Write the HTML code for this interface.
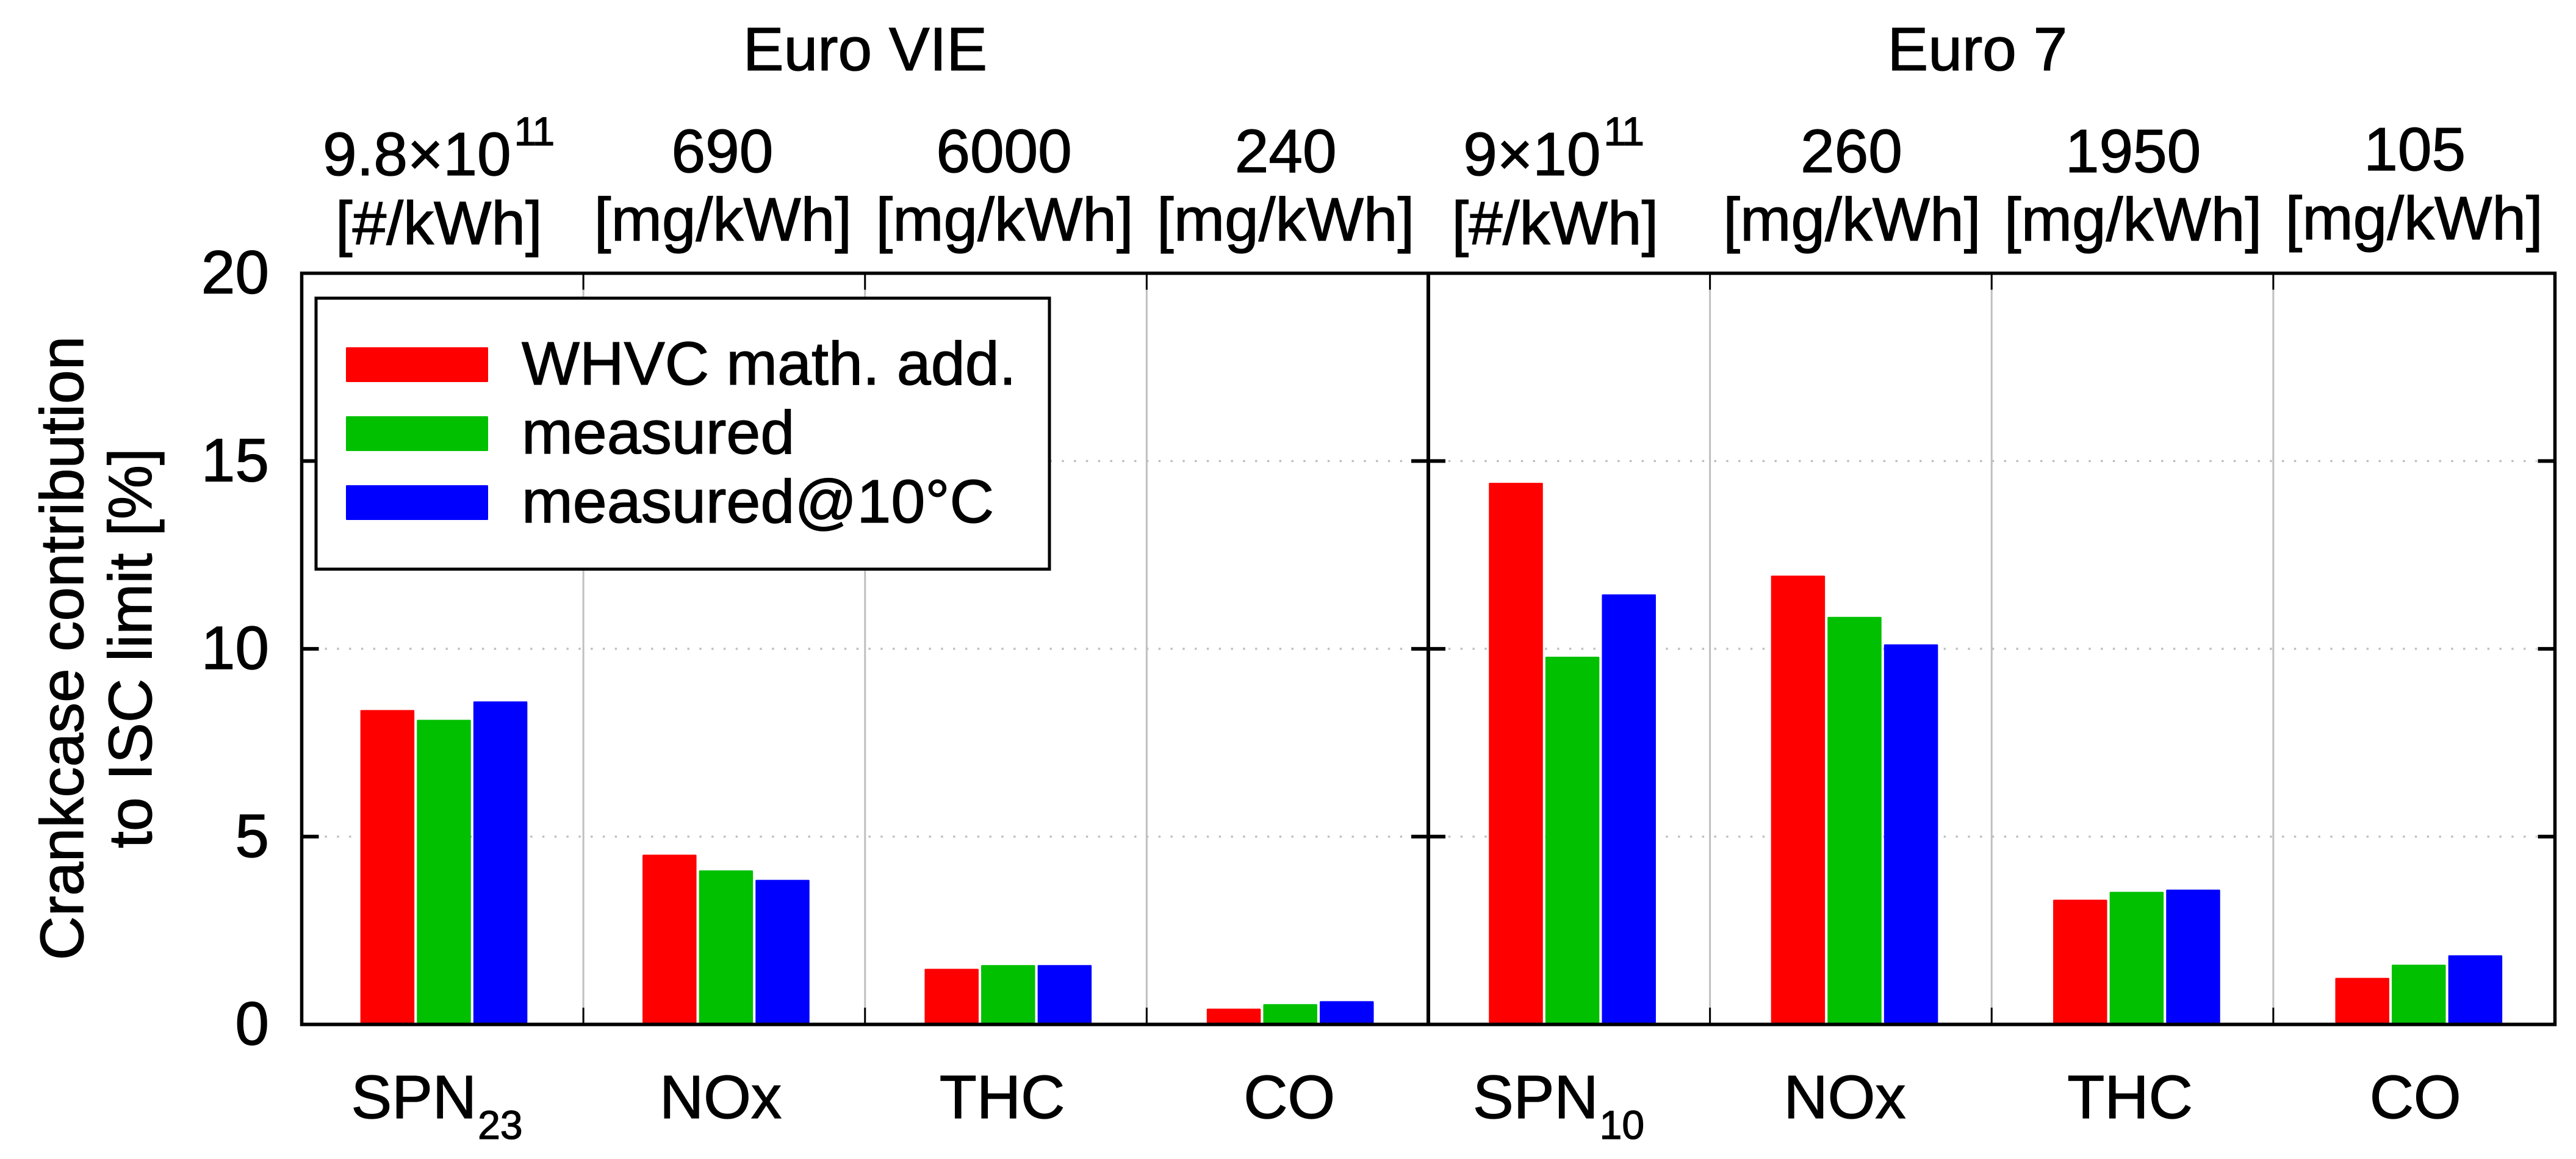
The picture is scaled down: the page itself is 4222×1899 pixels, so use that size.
<!DOCTYPE html>
<html lang="en">
<head>
<meta charset="utf-8">
<title>Crankcase contribution to ISC limit</title>
<style>
html,body{margin:0;padding:0;background:#fff;}
svg{display:block;}
text{font-family:"Liberation Sans",Arial,sans-serif;fill:#000;stroke:#000;stroke-width:1.3px;}
</style>
</head>
<body>
<svg id="chart" xmlns="http://www.w3.org/2000/svg" width="4222" height="1899" viewBox="0 0 4222 1899"></svg>
<script>
const categories = ["SPN", "NOx", "THC", "CO", "SPN", "NOx", "THC", "CO"];
const categorySubs = ["23", "", "", "", "10", "", "", ""];
const limitValues = ["9.8×10", "690", "6000", "240", "9×10", "260", "1950", "105"];
const limitExponents = ["11", "", "", "", "11", "", "", ""];
const limitUnits = ["[#/kWh]", "[mg/kWh]", "[mg/kWh]", "[mg/kWh]", "[#/kWh]", "[mg/kWh]", "[mg/kWh]", "[mg/kWh]"];
const standards = ["Euro VIE", "Euro 7"];
const seriesNames = ["WHVC math. add.", "measured", "measured@10°C"];
const whvcMathAdd = [8.37, 4.52, 1.48, 0.42, 14.42, 11.95, 3.32, 1.24];
const measured = [8.11, 4.10, 1.58, 0.54, 9.79, 10.85, 3.53, 1.59];
const measuredAt10C = [8.60, 3.85, 1.58, 0.62, 11.45, 10.12, 3.59, 1.84];
const yTicks = [0, 5, 10, 15, 20];

const NS = "http://www.w3.org/2000/svg";
const svg = document.getElementById("chart");
const seriesColors = ["#ff0000", "#00c000", "#0000ff"];
const seriesList = [whvcMathAdd, measured, measuredAt10C];
const seriesKeys = ["whvc", "measured", "measured-10c"];

/* hand-placed label nudges relative to each group's centre */
const categoryNudge = [-47, -6, -6, 3, -55, -10, -4, 2];
const limitNudge = [-42, -3, -3, -3, -61, 1, 1, 1];
const unitNudge = [-6, -2, -2, -3, -23, 2, 1, 0];

const plotLeft = 494.5, plotRight = 4187.5, plotTop = 447.7, plotBottom = 1678.5;
const groupWidth = (plotRight - plotLeft) / categories.length;
const yMax = yTicks[yTicks.length - 1];

function yScale(v) { return plotBottom - (v / yMax) * (plotBottom - plotTop); }
function groupEdge(i) { return plotLeft + i * groupWidth; }
function groupCenter(i) { return groupEdge(i) + groupWidth / 2; }
function barCenter(i, s) { return 727.5 + i * 462.4 + (s - 1) * 92.6; }

function make(tag, attrs, txt) {
  const el = document.createElementNS(NS, tag);
  for (const k in attrs) el.setAttribute(k, attrs[k]);
  if (txt !== undefined) el.textContent = txt;
  svg.appendChild(el);
  return el;
}
function lineEl(x1, y1, x2, y2, stroke, w, extra) {
  return make("line", Object.assign({ x1: x1, y1: y1, x2: x2, y2: y2, stroke: stroke, "stroke-width": w }, extra || {}));
}

/* horizontal dotted grid */
yTicks.forEach(function (t) {
  if (t === 0 || t === yMax) return;
  const g = lineEl(plotLeft + 38, yScale(t), plotRight - 30, yScale(t), "#bdbdbd", 3.4, { "stroke-dasharray": "3.4 16.4" });
  
  
});

/* vertical grid + group tick marks */
categories.forEach(function (c, i) {
  if (i === 0 || i === 4) return;
  const x = groupEdge(i);
  const g = lineEl(x, plotTop, x, plotBottom, "#c0c0c0", 3);
  
  
  const a = lineEl(x, plotTop, x, plotTop + 27, "#000", 3);
  
  
  const b = lineEl(x, plotBottom - 27.5, x, plotBottom, "#000", 3);
  
  
});

/* bars */
const barWidth = 88.5, barBase = 1676;
seriesList.forEach(function (values, s) {
  values.forEach(function (v, i) {
    const top = yScale(v);
    const r = make("rect", { x: barCenter(i, s) - barWidth / 2, y: top, width: barWidth, height: barBase - top, fill: seriesColors[s], rx: 1.5 });
    
    
  });
});

/* frame */
const frame = make("rect", { x: plotLeft, y: plotTop, width: plotRight - plotLeft, height: plotBottom - plotTop, fill: "none", stroke: "#000", "stroke-width": 5.5 });


const bottomAxis = lineEl(plotLeft - 2.5, plotBottom, plotRight + 2.5, plotBottom, "#000", 5.5);


const divider = lineEl(groupEdge(4), plotTop, groupEdge(4), plotBottom, "#000", 6);



/* y ticks and labels */
const baselineShift = 33;
yTicks.forEach(function (t) {
  const y = yScale(t);
  if (t !== 0 && t !== yMax) {
    [[plotLeft, plotLeft + 28], [groupEdge(4) - 28, groupEdge(4) + 28], [plotRight - 28, plotRight]].forEach(function (seg, k) {
      const m = lineEl(seg[0], y, seg[1], y, "#000", 6);
      
      
    });
  }
  const l = make("text", { x: 441, y: y + baselineShift, "font-size": 100, "text-anchor": "end" }, String(t));
  
  
});

/* y-axis title */
const t1 = make("text", { x: 0, y: 0, "font-size": 100, "text-anchor": "middle", transform: "translate(136 1062) rotate(-90)" }, "Crankcase contribution");


const t2 = make("text", { x: 0, y: 0, "font-size": 100, "text-anchor": "middle", transform: "translate(248 1062) rotate(-90)" }, "to ISC limit [%]");



/* standards headers */
standards.forEach(function (s, k) {
  const h = make("text", { x: k === 0 ? 1418 : 3241, y: 115, "font-size": 100, "text-anchor": "middle" }, s);
  
  
});

/* limits and category labels */
const subFont = 66;
categories.forEach(function (c, i) {
  const cx = groupCenter(i);
  const hasExp = limitExponents[i] !== "";
  const lim = make("text", { x: cx + limitNudge[i], y: hasExp ? 287 : (i === 7 ? 279 : 282), "font-size": 100, "text-anchor": "middle" }, limitValues[i]);
  
  
  if (hasExp) {
    const box = lim.getBBox();
    const e = make("text", { x: box.x + box.width + 5, y: 238, "font-size": subFont, "letter-spacing": "-2" }, limitExponents[i]);
    
    
  }
  const u = make("text", { x: cx + unitNudge[i], y: hasExp ? 400 : (i === 7 ? 392 : 394), "font-size": 100, "text-anchor": "middle" }, limitUnits[i]);
  
  

  const hasSub = categorySubs[i] !== "";
  const cat = make("text", { x: cx + categoryNudge[i], y: 1832, "font-size": 100, "text-anchor": "middle" }, c);
  
  
  if (hasSub) {
    const b = cat.getBBox();
    const st = make("text", { x: b.x + b.width + 2, y: 1866, "font-size": subFont }, categorySubs[i]);
    
    
  }
});

/* legend */
const legendBox = make("rect", { x: 518, y: 488.5, width: 1202, height: 444, fill: "#fff", stroke: "#000", "stroke-width": 5 });


seriesNames.forEach(function (n, s) {
  const sw = make("rect", { x: 567, y: 569 + s * 113, width: 233, height: 57, fill: seriesColors[s], rx: 1.5 });
  
  
  const lt = make("text", { x: 855, y: 630 + s * 113, "font-size": 100.6 }, n);
  
  
});
</script>
</body>
</html>
